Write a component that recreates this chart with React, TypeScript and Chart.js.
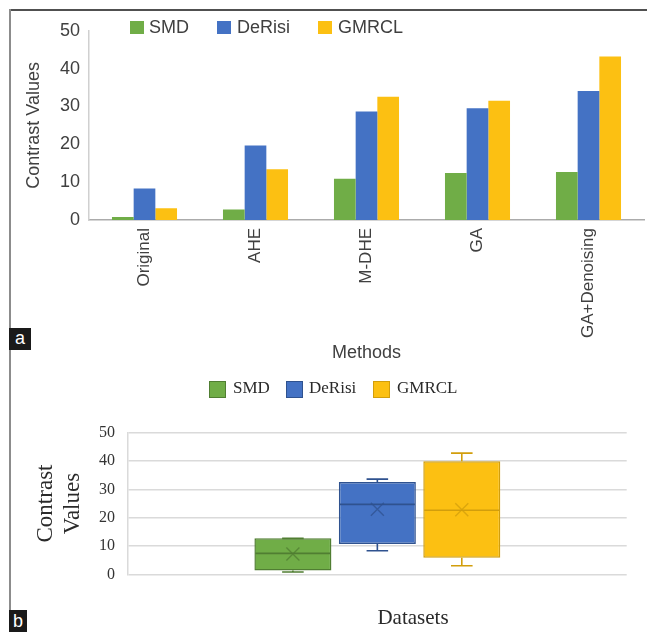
import React, { useEffect, useRef } from 'react';
import { Chart, registerables } from 'chart.js';

Chart.register(...registerables);

// ---- Panel a data ----
const methods = ['Original', 'AHE', 'M-DHE', 'GA', 'GA+Denoising'];
const seriesNames = ['SMD', 'DeRisi', 'GMRCL'];
const smdValues = [0.8, 2.8, 10.9, 12.4, 12.7];
const deRisiValues = [8.3, 19.7, 28.7, 29.5, 34.1];
const gmrclValues = [3.1, 13.4, 32.6, 31.5, 43.2];
const yTicksA = [0, 10, 20, 30, 40, 50];

// ---- Panel b data (box plot summary per dataset) ----
const boxLabels = ['SMD', 'DeRisi', 'GMRCL'];
const boxMin = [0.8, 8.3, 3.0];
const boxQ1 = [1.3, 10.7, 5.8];
const boxMedian = [7.4, 24.7, 22.6];
const boxQ3 = [12.7, 32.6, 39.9];
const boxMax = [12.7, 33.6, 42.8];
const boxMean = [7.2, 23.0, 22.8];

const FILL = ['#70AD47', '#4472C4', '#FCC012'];
const EDGE = ['#507E32', '#2F528F', '#D29E0C'];
const SANS = "'Liberation Sans', Arial, sans-serif";
const SERIF = "'Liberation Serif', 'Times New Roman', serif";
const TEXT_A = '#404040';
const TEXT_B = '#2a2a2a';

function BarPanel() {
  const ref = useRef<HTMLCanvasElement>(null);
  useEffect(() => {
    const values = [smdValues, deRisiValues, gmrclValues];
    const chart = new Chart(ref.current as HTMLCanvasElement, {
      type: 'bar',
      data: {
        labels: methods,
        datasets: seriesNames.map((name, i) => ({
          label: name,
          data: values[i],
          backgroundColor: FILL[i],
          borderWidth: 0,
          categoryPercentage: 0.586,
          barPercentage: 1.0,
        })),
      },
      options: {
        animation: false,
        responsive: true,
        maintainAspectRatio: false,
        layout: { padding: { left: 0, top: 15, right: 3, bottom: 0 } },
        plugins: { legend: { display: false }, tooltip: { enabled: false } },
        scales: {
          x: {
            grid: { display: false, drawTicks: false },
            border: { display: true, color: '#ababab', width: 1.5 },
            ticks: {
              autoSkip: false,
              minRotation: 90,
              maxRotation: 90,
              padding: 8,
              color: TEXT_A,
              font: { family: SANS, size: 17 },
            },
            title: {
              display: true,
              text: 'Methods',
              color: TEXT_A,
              font: { family: SANS, size: 18 },
              padding: { top: 0, bottom: 4 },
            },
            afterFit: (s: any) => {
              s.height = 148;
            },
          },
          y: {
            min: yTicksA[0],
            max: yTicksA[yTicksA.length - 1],
            afterBuildTicks: (s: any) => {
              s.ticks = yTicksA.map((v) => ({ value: v }));
            },
            grid: { display: false, drawTicks: false },
            border: { display: true, color: '#d0d0d0', width: 1.5 },
            ticks: { padding: 9, color: TEXT_A, font: { family: SANS, size: 18 } },
            title: {
              display: true,
              text: 'Contrast Values',
              color: TEXT_A,
              font: { family: SANS, size: 18 },
              padding: { top: 12, bottom: 0 },
            },
            afterFit: (s: any) => {
              s.width = 78;
            },
          },
        },
      },
    } as any);
    return () => chart.destroy();
  }, []);
  return (
    <div style={{ position: 'absolute', left: 11, top: 11, width: 636, height: 357 }}>
      <canvas ref={ref} style={{ display: 'block' }} />
    </div>
  );
}

const boxExtras = {
  id: 'boxExtras',
  afterDatasetsDraw(chart: any) {
    const y = chart.scales.y;
    const ctx = chart.ctx;
    chart.data.datasets.forEach((_ds: any, i: number) => {
      const meta = chart.getDatasetMeta(i);
      const bar = meta.data[0];
      if (!bar) return;
      const { x, width } = bar.getProps(['x', 'width'], true);
      const half = width / 2;
      const cap = width * 0.14;
      const pMin = y.getPixelForValue(boxMin[i]);
      const pQ1 = y.getPixelForValue(boxQ1[i]);
      const pMed = y.getPixelForValue(boxMedian[i]);
      const pQ3 = y.getPixelForValue(boxQ3[i]);
      const pMax = y.getPixelForValue(boxMax[i]);
      const pMean = y.getPixelForValue(boxMean[i]);
      ctx.save();
      ctx.strokeStyle = EDGE[i];
      ctx.lineWidth = 1.6;
      ctx.beginPath();
      // upper whisker
      ctx.moveTo(x, pQ3);
      ctx.lineTo(x, pMax);
      ctx.moveTo(x - cap, pMax);
      ctx.lineTo(x + cap, pMax);
      // lower whisker
      ctx.moveTo(x, pQ1);
      ctx.lineTo(x, pMin);
      ctx.moveTo(x - cap, pMin);
      ctx.lineTo(x + cap, pMin);
      // median
      ctx.moveTo(x - half + 1, pMed);
      ctx.lineTo(x + half - 1, pMed);
      ctx.stroke();
      // mean marker (X)
      const m = 6.5;
      ctx.globalAlpha = 0.75;
      ctx.lineWidth = 1.4;
      ctx.beginPath();
      ctx.moveTo(x - m, pMean - m);
      ctx.lineTo(x + m, pMean + m);
      ctx.moveTo(x - m, pMean + m);
      ctx.lineTo(x + m, pMean - m);
      ctx.stroke();
      ctx.restore();
    });
  },
};

function BoxPanel() {
  const ref = useRef<HTMLCanvasElement>(null);
  useEffect(() => {
    const chart = new Chart(ref.current as HTMLCanvasElement, {
      type: 'bar',
      data: {
        labels: [''],
        datasets: boxLabels.map((name, i) => ({
          label: name,
          data: [[boxQ1[i], boxQ3[i]]],
          backgroundColor: FILL[i],
          borderColor: EDGE[i],
          borderWidth: 1.5,
          borderSkipped: false,
          categoryPercentage: 0.508,
          barPercentage: 0.912,
        })),
      },
      options: {
        animation: false,
        responsive: true,
        maintainAspectRatio: false,
        layout: { padding: { left: 0, top: 62.7, right: 20.3, bottom: 0 } },
        plugins: { legend: { display: false }, tooltip: { enabled: false } },
        scales: {
          x: {
            ticks: { display: false },
            grid: { display: false, drawTicks: false },
            border: { display: false },
            afterFit: (s: any) => {
              s.height = 57.7;
            },
          },
          y: {
            min: yTicksA[0],
            max: yTicksA[yTicksA.length - 1],
            afterBuildTicks: (s: any) => {
              s.ticks = yTicksA.map((v) => ({ value: v }));
            },
            grid: { color: '#dadada', lineWidth: 1.5, drawTicks: false },
            border: { display: true, color: '#dadada', width: 1.5 },
            ticks: { padding: 13, color: '#333', font: { family: SERIF, size: 16 } },
            title: {
              display: true,
              text: ['Contrast', 'Values'],
              color: TEXT_B,
              font: { family: SERIF, size: 23 },
              padding: { top: 21, bottom: 0 },
            },
            afterFit: (s: any) => {
              s.width = 117;
            },
          },
        },
      },
      plugins: [boxExtras],
    } as any);
    return () => chart.destroy();
  }, []);
  return (
    <div style={{ position: 'absolute', left: 11, top: 370, width: 636, height: 262 }}>
      <canvas ref={ref} style={{ display: 'block' }} />
    </div>
  );
}

const legendAPos = [
  { box: 130, text: 149 },
  { box: 217, text: 237 },
  { box: 318, text: 338 },
];
const legendBPos = [
  { box: 209, text: 233 },
  { box: 286, text: 309 },
  { box: 373, text: 397 },
];

export default function App() {
  return (
    <div
      style={{
        position: 'absolute',
        left: 0,
        top: 0,
        width: 647,
        height: 632,
        background: '#fff',
        overflow: 'hidden',
      }}
    >
      {/* frame */}
      <div style={{ position: 'absolute', left: 9, top: 9, width: 638, height: 2, background: '#505050' }} />
      <div style={{ position: 'absolute', left: 9, top: 9, width: 2, height: 623, background: '#8c8c8c' }} />

      <BarPanel />
      <BoxPanel />

      {/* legend a */}
      {seriesNames.map((n, i) => (
        <React.Fragment key={'la' + n}>
          <div
            style={{
              position: 'absolute',
              left: legendAPos[i].box,
              top: 21,
              width: 14,
              height: 13,
              background: FILL[i],
            }}
          />
          <div
            style={{
              position: 'absolute',
              left: legendAPos[i].text,
              top: 16,
              fontFamily: SANS,
              fontSize: 18,
              lineHeight: '22px',
              color: TEXT_A,
              whiteSpace: 'nowrap',
            }}
          >
            {n}
          </div>
        </React.Fragment>
      ))}

      {/* legend b */}
      {boxLabels.map((n, i) => (
        <React.Fragment key={'lb' + n}>
          <div
            style={{
              position: 'absolute',
              left: legendBPos[i].box,
              top: 381,
              width: 15,
              height: 15,
              background: FILL[i],
              border: '1px solid ' + EDGE[i],
            }}
          />
          <div
            style={{
              position: 'absolute',
              left: legendBPos[i].text,
              top: 378,
              fontFamily: SERIF,
              fontSize: 17,
              lineHeight: '20px',
              color: TEXT_B,
              whiteSpace: 'nowrap',
            }}
          >
            {n}
          </div>
        </React.Fragment>
      ))}

      {/* x-axis title of panel b */}
      <div
        style={{
          position: 'absolute',
          left: 313,
          top: 604,
          width: 200,
          textAlign: 'center',
          fontFamily: SERIF,
          fontSize: 21,
          lineHeight: '26px',
          color: TEXT_B,
        }}
      >
        Datasets
      </div>

      {/* panel letters */}
      <div
        style={{
          position: 'absolute',
          left: 9,
          top: 328,
          width: 22,
          height: 22,
          background: '#1a1a1a',
          color: '#fff',
          fontFamily: SANS,
          fontSize: 18,
          lineHeight: '20px',
          textAlign: 'center',
        }}
      >
        a
      </div>
      <div
        style={{
          position: 'absolute',
          left: 9,
          top: 610,
          width: 18,
          height: 22,
          background: '#1a1a1a',
          color: '#fff',
          fontFamily: SANS,
          fontSize: 18,
          lineHeight: '22px',
          textAlign: 'center',
        }}
      >
        b
      </div>
    </div>
  );
}
